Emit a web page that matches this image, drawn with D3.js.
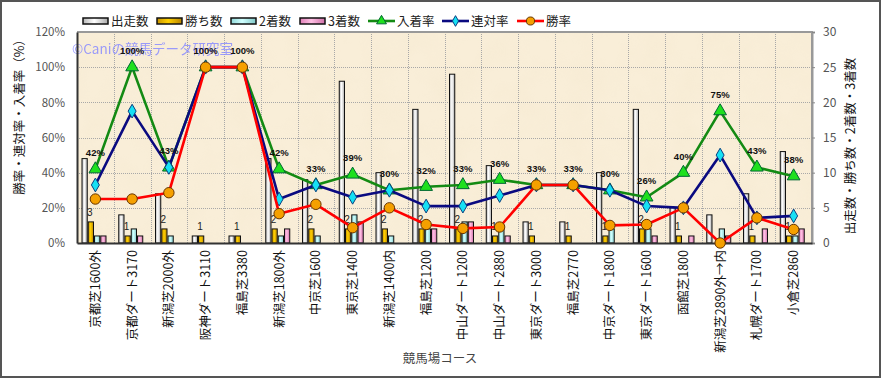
<!DOCTYPE html>
<html>
<head>
<meta charset="utf-8">
<title>競馬場コース別成績</title>
<script src="https://d3js.org/d3.v7.min.js"></script>
<style>
  body { margin: 0; background: #fff; }
  text { font-family: "Noto Sans CJK JP", "Noto Sans", sans-serif; }
</style>
</head>
<body>
<svg width="881" height="378"></svg>
<script>
// ---- data ----
var courses = ["京都芝1600外","京都ダート3170","新潟芝2000外","阪神ダート3110","福島芝3380",
  "新潟芝1800外","中京芝1600","東京芝1400","新潟芝1400内","福島芝1200",
  "中山ダート1200","中山ダート2880","東京ダート3000","福島芝2770","中京ダート1800",
  "東京ダート1600","函館芝1800","新潟芝2890外→内","札幌ダート1700","小倉芝2860"];
var runs   = [12, 4, 7, 1, 1, 12, 9, 23, 10, 19, 24, 11, 3, 3, 10, 19, 5, 4, 7, 13];
var wins   = [3, 1, 2, 1, 1, 2, 2, 2, 2, 2, 2, 1, 1, 1, 1, 2, 1, 0, 1, 1];
var second = [1, 2, 1, 0, 0, 1, 1, 4, 1, 2, 3, 2, 0, 0, 2, 2, 0, 2, 0, 1];
var third  = [1, 1, 0, 0, 0, 2, 0, 3, 0, 2, 3, 1, 0, 0, 0, 1, 1, 1, 2, 2];
var placeRate = [42, 100, 43, 100, 100, 42, 33, 39, 30, 32, 33, 36, 33, 33, 30, 26, 40, 75, 43, 38];
var top2Rate  = [33, 75, 43, 100, 100, 25, 33, 26, 30, 21, 21, 27, 33, 33, 30, 21, 20, 50, 14.3, 15.4];
var winRate   = [25, 25, 28.6, 100, 100, 16.7, 22, 8.7, 20, 10.5, 8.3, 9.1, 33, 33, 10, 10.5, 20, 0, 14.3, 7.7];
var pctTicks = [0, 20, 40, 60, 80, 100, 120];
var cntTicks = [0, 5, 10, 15, 20, 25, 30];

var barKeys  = ["出走数","勝ち数","2着数","3着数"];
var lineKeys = ["入着率","連対率","勝率"];

var svg = d3.select("svg");
var plot = {left: 77, right: 812, top: 32, bottom: 243};

var defs = svg.append("defs");
function grad(id, c1, c2, c3) {
  var g = defs.append("linearGradient").attr("id", id).attr("x1", "0").attr("x2", "1").attr("y1", "0").attr("y2", "0");
  g.append("stop").attr("offset", "0%").attr("stop-color", c1);
  g.append("stop").attr("offset", "45%").attr("stop-color", c2);
  g.append("stop").attr("offset", "100%").attr("stop-color", c3);
}
grad("g0", "#b8b8b8", "#ffffff", "#a8a8a8");
grad("g1", "#c89400", "#ffd000", "#b88400");
grad("g2", "#90d8d8", "#d0ffff", "#80c8c8");
grad("g3", "#e080b8", "#ffc0e4", "#d070a8");
var barFill = ["url(#g0)", "url(#g1)", "url(#g2)", "url(#g3)"];

var f = defs.append("filter").attr("id", "paper").attr("x", 0).attr("y", 0).attr("width", 1).attr("height", 1);
f.append("feTurbulence").attr("type", "fractalNoise").attr("baseFrequency", "0.03").attr("numOctaves", 3).attr("seed", 4);
f.append("feColorMatrix").attr("type", "matrix")
  .attr("values", "0 0 0 0 0.86  0 0 0 0 0.76  0 0 0 0 0.56  0 0 0 0.9 -0.3");

// outer frame
svg.append("rect").attr("x", 1).attr("y", 1).attr("width", 879).attr("height", 376)
  .attr("fill", "#fff").attr("stroke", "#555").attr("stroke-width", 2);

// scales
var x = d3.scaleBand().domain(courses).range([plot.left, plot.right]);
var xi = d3.scaleBand().domain(barKeys).range([4.5, 29.5]);
var yL = d3.scaleLinear().domain([0, 120]).range([plot.bottom, plot.top]);
var yR = d3.scaleLinear().domain([0, 30]).range([plot.bottom, plot.top]);

// plot background
svg.append("rect").attr("x", plot.left).attr("y", plot.top)
  .attr("width", plot.right - plot.left).attr("height", plot.bottom - plot.top).attr("fill", "#f9eed8");
svg.append("rect").attr("x", plot.left).attr("y", plot.top)
  .attr("width", plot.right - plot.left).attr("height", plot.bottom - plot.top)
  .attr("filter", "url(#paper)").attr("opacity", 0.35);

// grid
var grid = svg.append("g").attr("stroke", "#a8a8a8").attr("stroke-dasharray", "1,1").attr("stroke-width", 1);
grid.selectAll(".h").data(pctTicks.slice(1, -1)).enter().append("line")
  .attr("x1", plot.left).attr("x2", plot.right)
  .attr("y1", function(d) { return Math.round(yL(d)) + 0.5; })
  .attr("y2", function(d) { return Math.round(yL(d)) + 0.5; });
grid.selectAll(".v").data(courses.slice(1)).enter().append("line")
  .attr("y1", plot.top).attr("y2", plot.bottom)
  .attr("x1", function(d) { return Math.round(x(d)) + 0.5; })
  .attr("x2", function(d) { return Math.round(x(d)) + 0.5; });

// plot border (top/right gray)
svg.append("path")
  .attr("d", "M" + plot.left + "," + plot.top + "H" + plot.right + "V" + plot.bottom)
  .attr("fill", "none").attr("stroke", "#999").attr("stroke-width", 2);

// watermark
svg.append("text").attr("x", 72).attr("y", 54).attr("fill", "#8a8cff").attr("opacity", 0.85)
  .style("font-size", "13.5px").text("©Caniの競馬データ研究室");

// bars
var barSeries = [runs, wins, second, third];
var rows = courses.map(function(c, i) {
  return barKeys.map(function(k, j) { return {c: c, k: k, j: j, v: barSeries[j][i]}; });
});
var groups = svg.append("g").selectAll("g").data(rows).enter().append("g")
  .attr("transform", function(d, i) { return "translate(" + x(courses[i]) + ",0)"; });
groups.selectAll("rect").data(function(d) { return d.filter(function(e) { return e.v > 0; }); })
  .enter().append("rect")
  .attr("x", function(d) { return xi(d.k) + 0.5; })
  .attr("width", xi.bandwidth() - 1)
  .attr("y", function(d) { return yR(d.v); })
  .attr("height", function(d) { return yR(0) - yR(d.v); })
  .attr("fill", function(d) { return barFill[d.j]; })
  .attr("stroke", "#111").attr("stroke-width", 1);

// wins labels
svg.append("g").selectAll("text").data(courses.filter(function(c, i) { return wins[i] > 0; }))
  .enter().append("text")
  .attr("x", function(c) { return x(c) + xi("勝ち数") + xi.bandwidth() / 2 - 1; })
  .attr("y", function(c) { return yR(wins[courses.indexOf(c)]) - 6; })
  .attr("text-anchor", "middle").attr("fill", "#222")
  .style("font-size", "10px").style("font-family", "Liberation Sans")
  .text(function(c) { return wins[courses.indexOf(c)]; });

// axes
var axL = svg.append("g").attr("transform", "translate(" + plot.left + ",0)")
  .call(d3.axisLeft(yL).tickValues(pctTicks).tickFormat(function(d) { return d + "%"; }).tickSize(0).tickPadding(12));
var axR = svg.append("g").attr("transform", "translate(" + plot.right + ",0)")
  .call(d3.axisRight(yR).tickValues(cntTicks).tickSize(3).tickPadding(8));
var axB = svg.append("g").attr("transform", "translate(0," + plot.bottom + ")")
  .call(d3.axisBottom(x).tickSize(0));
axL.select(".domain").attr("stroke", "#333").attr("stroke-width", 2);
axR.select(".domain").attr("stroke", "#999").attr("stroke-width", 2);
axR.selectAll(".tick line").attr("stroke", "#888");
axB.select(".domain").attr("stroke", "#333").attr("stroke-width", 2);
axL.selectAll("text").attr("fill", "#555").style("font-size", "11.5px");
axR.selectAll("text").attr("fill", "#555").style("font-size", "12px");
axB.selectAll("text")
  .attr("transform", "rotate(-90)").attr("x", -7).attr("y", 0).attr("dy", "0.35em")
  .style("text-anchor", "end").attr("fill", "#111").style("font-size", "12.5px");

// lines
var lineSeries = [placeRate, top2Rate, winRate];
var lineColor = ["#138a13", "#0a0a80", "#ff0000"];
var line = d3.line()
  .x(function(d, i) { return x(courses[i]) + x.bandwidth() / 2; })
  .y(function(d) { return yL(d); });
var sym = [d3.symbolTriangle, d3.symbolDiamond, d3.symbolCircle];
var symSize = [70, 55, 85];
var symFill = ["#1ee01e", "#16e0f4", "#f5a000"];
var symStroke = ["#063", "#0a4080", "#663300"];
lineSeries.forEach(function(s, k) {
  svg.append("path").datum(s).attr("d", line).attr("fill", "none")
    .attr("stroke", lineColor[k]).attr("stroke-width", 2.6).attr("stroke-linejoin", "round");
  svg.append("g").selectAll("path").data(s).enter().append("path")
    .attr("transform", function(d, i) { return "translate(" + (x(courses[i]) + x.bandwidth() / 2) + "," + yL(d) + ")"; })
    .attr("d", d3.symbol().type(sym[k]).size(symSize[k]))
    .attr("fill", symFill[k]).attr("stroke", symStroke[k]).attr("stroke-width", 1);
});

// 入着率 labels
svg.append("g").selectAll("text").data(placeRate).enter().append("text")
  .attr("x", function(d, i) { return x(courses[i]) + x.bandwidth() / 2; })
  .attr("y", function(d) { return yL(d) - 13; })
  .attr("text-anchor", "middle").attr("fill", "#111")
  .style("font-size", "9.5px").style("font-weight", "bold").style("font-family", "Liberation Sans")
  .text(function(d) { return d + "%"; });

// axis titles
svg.append("text").attr("transform", "translate(24,114) rotate(-90)").attr("text-anchor", "middle")
  .attr("fill", "#111").style("font-size", "12.5px").text("勝率・連対率・入着率（%）");
svg.append("text").attr("transform", "translate(855,146) rotate(-90)").attr("text-anchor", "middle")
  .attr("fill", "#111").style("font-size", "12.5px").text("出走数・勝ち数・2着数・3着数");
svg.append("text").attr("x", 440).attr("y", 363).attr("text-anchor", "middle")
  .attr("fill", "#444").style("font-size", "12.5px").text("競馬場コース");

// legend
var legX = [83, 157, 231, 300, 368, 442, 517];
var leg = svg.append("g");
barKeys.forEach(function(k, j) {
  leg.append("rect").attr("x", legX[j]).attr("y", 18).attr("width", 25).attr("height", 6)
    .attr("fill", barFill[j]).attr("stroke", "#111").attr("stroke-width", 1.5);
  leg.append("text").attr("x", legX[j] + 28).attr("y", 25.5).attr("fill", "#222")
    .style("font-size", "12.5px").text(k);
});
lineKeys.forEach(function(k, n) {
  var lx = legX[4 + n];
  leg.append("line").attr("x1", lx).attr("x2", lx + 27).attr("y1", 21).attr("y2", 21)
    .attr("stroke", lineColor[n]).attr("stroke-width", 2.6);
  leg.append("path").attr("transform", "translate(" + (lx + 13.5) + ",21)")
    .attr("d", d3.symbol().type(sym[n]).size(symSize[n] * 0.6))
    .attr("fill", symFill[n]).attr("stroke", symStroke[n]).attr("stroke-width", 1);
  leg.append("text").attr("x", lx + 29).attr("y", 25.5).attr("fill", "#222")
    .style("font-size", "12.5px").text(k);
});
</script>
</body>
</html>
